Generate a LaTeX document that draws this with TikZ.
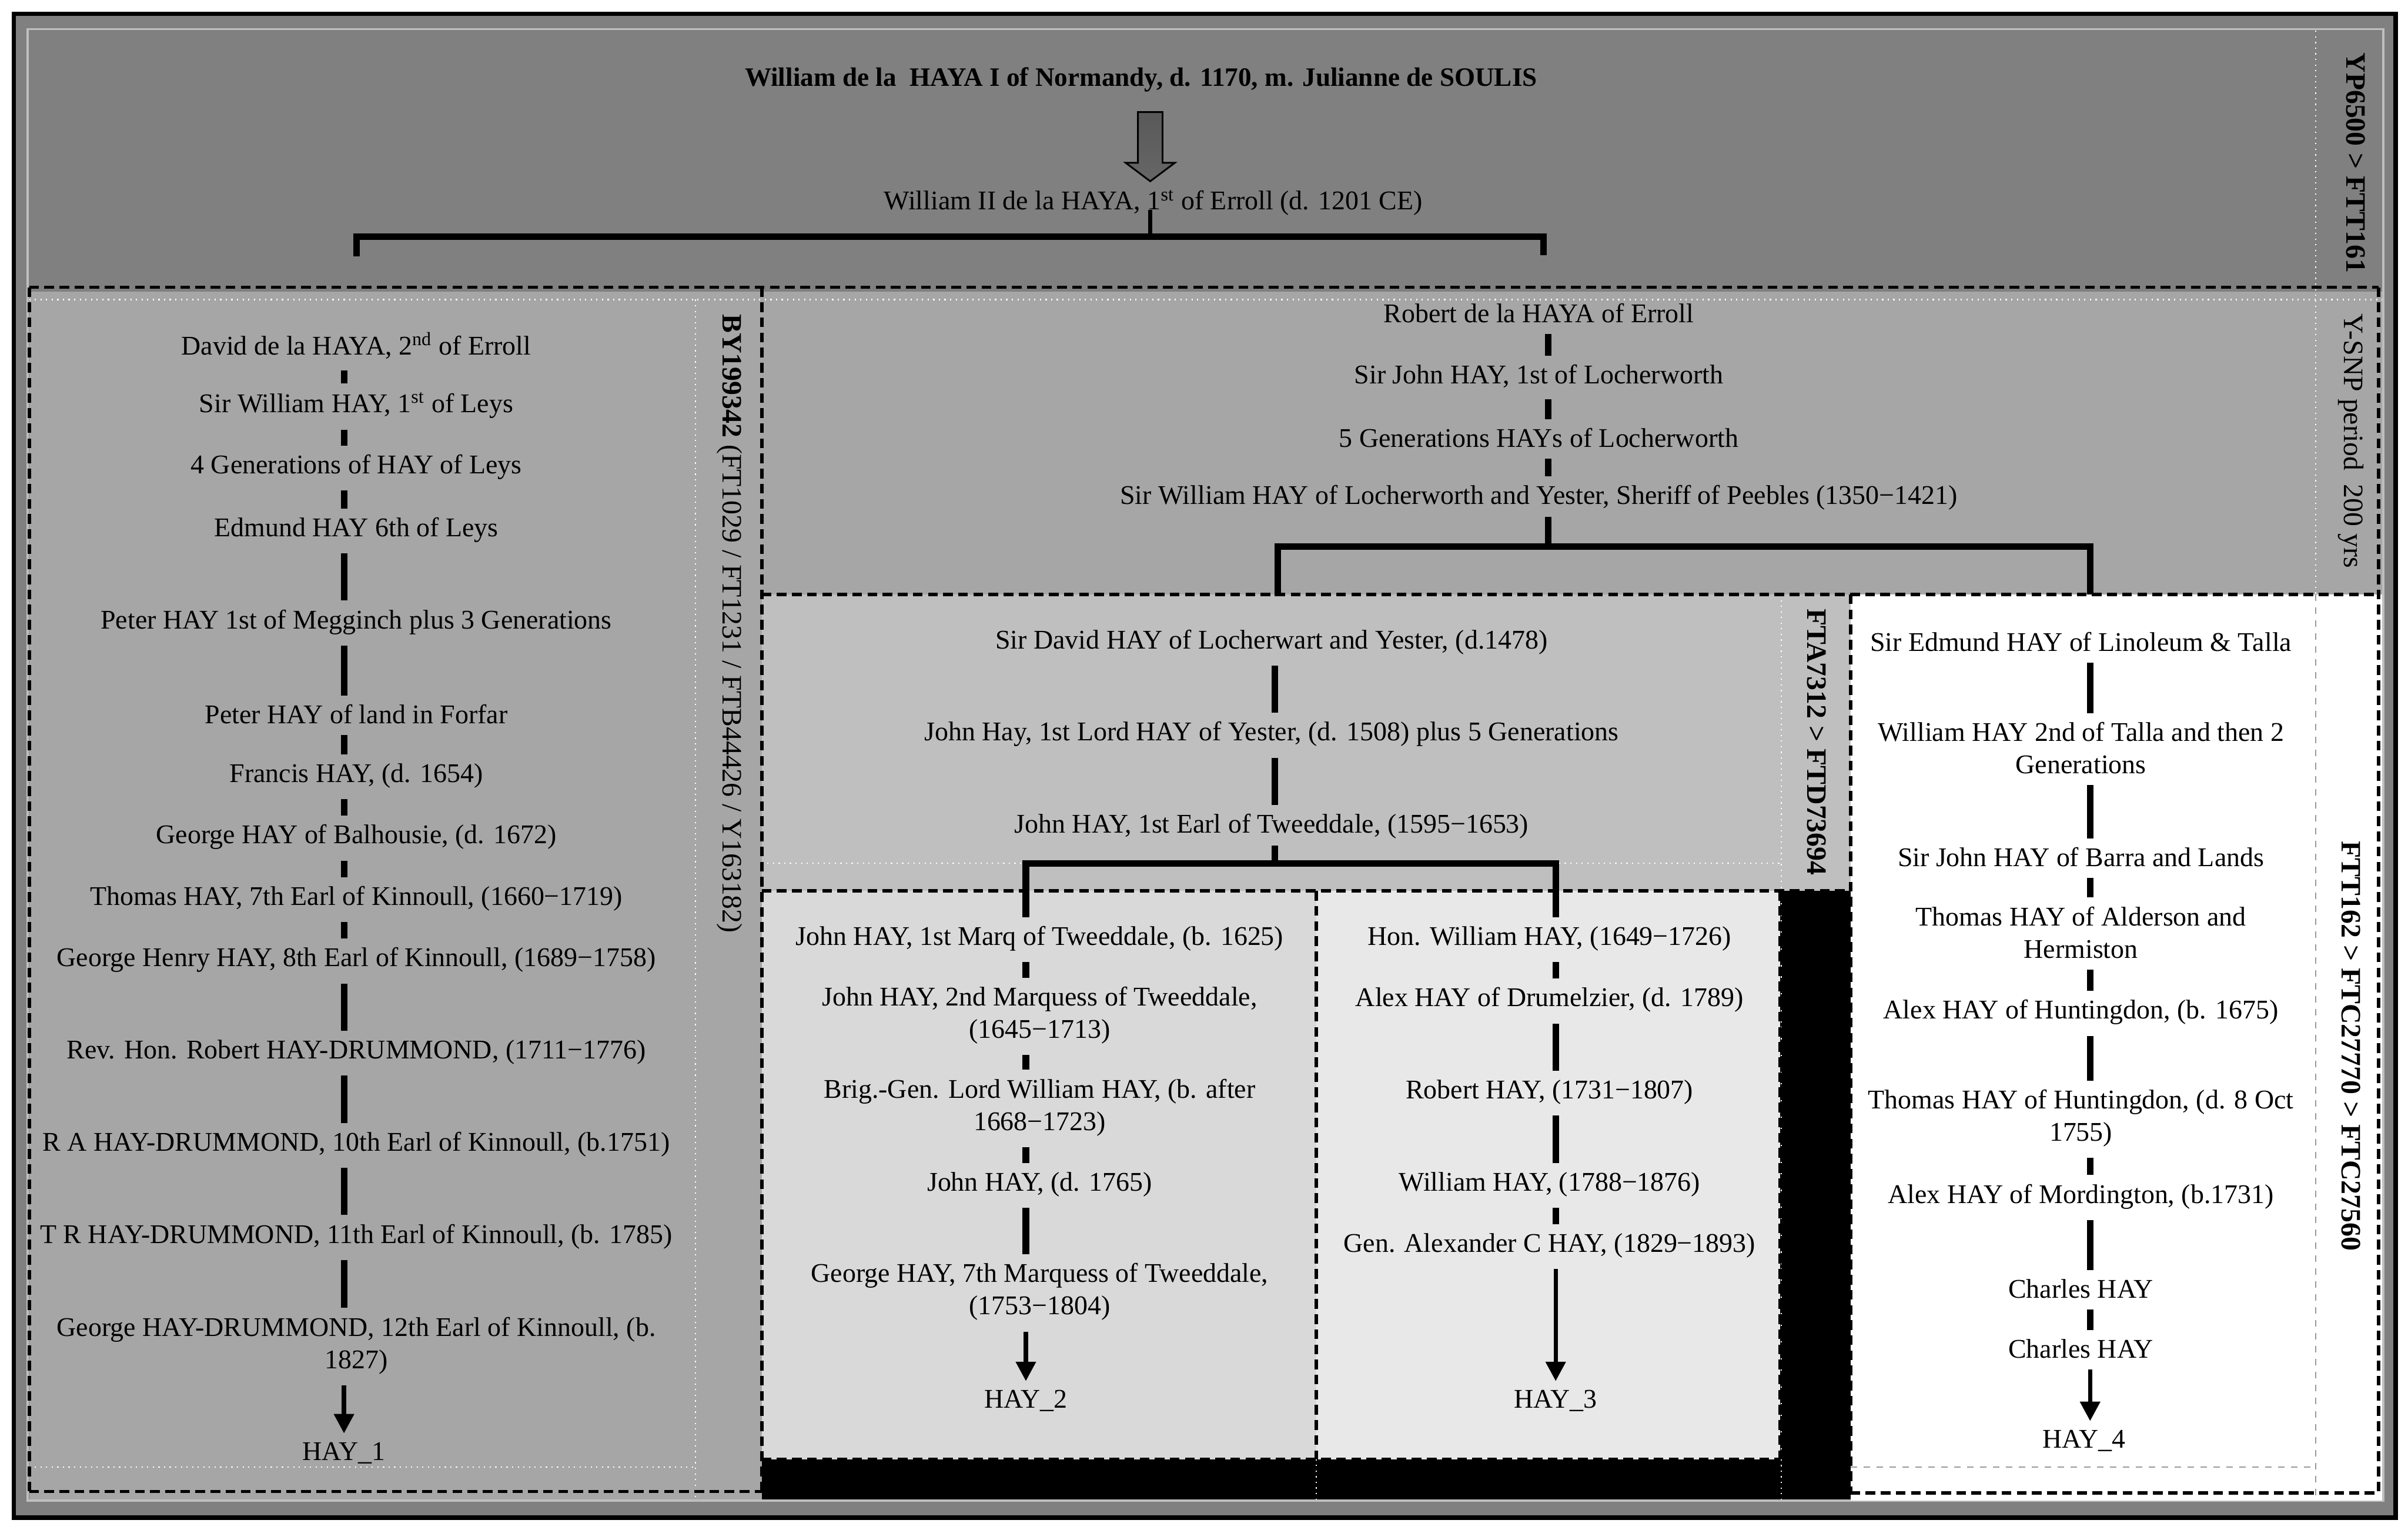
\documentclass[tikz,border=0pt]{standalone}
\usepackage{fontspec}
\setmainfont{Liberation Serif}
\usetikzlibrary{arrows.meta, calc}

\begin{document}
\begin{tikzpicture}[x=0.025cm, y=-0.025cm,
		person/.style={font=\fontsize{12.5}{15}\selectfont, align=center, inner sep=3pt},
		founder/.style={font=\fontsize{12.3}{15}\selectfont\bfseries},
		tag/.style={font=\fontsize{13}{15}\selectfont, rotate=-90},
		boldtag/.style={tag, font=\fontsize{13}{15}\selectfont\bfseries},
		link/.style={line width=3pt, shorten <=2pt, shorten >=1pt},
		fork/.style={line width=3pt},
		descent/.style={line width=2pt, -{Triangle[length=9pt, width=9pt]}, shorten <=2pt, shorten >=1pt},
		cellline/.style={dash pattern=on 4.5pt off 2.5pt, line width=1.6pt},
		gridline/.style={white, dotted, line width=0.6pt},
		greyline/.style={black!40, dashed, line width=0.5pt}]
	
	% Columnas de las barras de cada rama
	\def\xA{224}   % rama HAY_1
	\def\xR{1008}  % rama Robert de la HAYA
	\def\xM{830}   % rama Sir David
	\def\xB{668}   % rama HAY_2
	\def\xC{1013}  % rama HAY_3
	\def\xD{1361}  % rama HAY_4
	
	\useasboundingbox (0,0) rectangle (1568,996);
	
	% --- 1. MARCO Y FONDOS ---
	\fill[white] (0,0) rectangle (1568,996);
	\draw[line width=2pt, fill=black!50] (9,9) rectangle (1560,988);
	\draw[line width=1pt, black!25] (18,19) rectangle (1552,977);
	\fill[black!35] (19,190) rectangle (1551,976);   % tronco inferior
	\fill[black!25] (496,387) rectangle (1205,580);  % Sir David y su franja
	\fill[black!15] (496,580) rectangle (857,950);   % HAY_2
	\fill[black!9] (857,580) rectangle (1159,950);   % HAY_3
	\fill[black] (1159,580) rectangle (1205,976);
	\fill[black] (496,950) rectangle (1205,976);
	\fill[white] (1205,387) rectangle (1551,977);    % HAY_4
	
	% Rejilla de la tabla
	\draw[gridline] (19,195) -- (1551,195);
	\draw[gridline] (453,195) -- (453,976);
	\draw[gridline] (19,955) -- (453,955);
	\draw[gridline] (1508,20) -- (1508,387);
	\draw[gridline] (496,562) -- (1160,562);
	\draw[gridline] (1160,387) -- (1160,976);
	\draw[gridline] (857,950) -- (857,976);
	\draw[greyline] (1205,955) -- (1508,955);
	\draw[greyline] (1508,387) -- (1508,977);
	
	% Bordes discontinuos de las celdas (cada tramo una sola vez)
	\draw[cellline] (19,187) -- (1549,187);
	\draw[cellline] (496,387) -- (1549,387);
	\draw[cellline] (496,580) -- (1205,580);
	\draw[cellline] (496,950) -- (1159,950);
	\draw[cellline] (19,971) -- (496,971);
	\draw[cellline] (1205,972) -- (1549,972);
	\draw[cellline] (19,187) -- (19,971);
	\draw[cellline] (496,187) -- (496,971);
	\draw[cellline] (857,580) -- (857,950);
	\draw[cellline] (1159,580) -- (1159,950);
	\draw[cellline] (1205,387) -- (1205,972);
	\draw[cellline] (1549,187) -- (1549,972);
	
	% --- 2. CABECERA ---
	\node[founder] (w1) at (743,52) {William de la\ \ HAYA I of Normandy, d. 1170, m. Julianne de SOULIS};
	\node[person] (w2) at (751,132) {William II de la HAYA, 1\textsuperscript{st} of Erroll (d. 1201 CE)};
	
	% Flecha de bloque
	\coordinate (arrtop) at (749,73);
	\shadedraw[top color=black!65, middle color=black, bottom color=black!60, line width=0.8pt]
		(arrtop) ++(-8,0) -- ++(16,0) -- ++(0,33) -- ++(8,0) -- ++(-16,12) -- ++(-16,-12) -- ++(8,0) -- cycle;
	
	% Etiquetas verticales de haplogrupo
	\node[boldtag] (t1) at (1534,106) {YP6500 > FTT161};
	\node[tag] (t2) at (475,406) {\textbf{BY199342} (FT1029 / FT1231 / FTB44426 / Y163182)};
	\node[tag] (t3) at (1531,287) {Y-SNP period\ \ 200 yrs};
	\node[boldtag] (t4) at (1183,483) {FTA7312 > FTD73694};
	\node[boldtag] (t5) at (1531,681) {FTT162 > FTC27770 > FTC27560};
	
	% --- 3. RAMA HAY_1 ---
	\node[person] (l1) at (232,225) {David de la HAYA, 2\textsuperscript{nd} of Erroll};
	\node[person] (l2) at (232,264) {Sir William HAY, 1\textsuperscript{st} of Leys};
	\node[person] (l3) at (232,304) {4 Generations of HAY of Leys};
	\node[person] (l4) at (232,345) {Edmund HAY 6th of Leys};
	\node[person] (l5) at (232,405) {Peter HAY 1st of Megginch plus 3 Generations};
	\node[person] (l6) at (232,465) {Peter HAY of land in Forfar};
	\node[person] (l7) at (232,505) {Francis HAY, (d. 1654)};
	\node[person] (l8) at (232,545) {George HAY of Balhousie, (d. 1672)};
	\node[person] (l9) at (232,585) {Thomas HAY, 7th Earl of Kinnoull, (1660−1719)};
	\node[person] (l10) at (232,625) {George Henry HAY, 8th Earl of Kinnoull, (1689−1758)};
	\node[person] (l11) at (232,685) {Rev. Hon. Robert HAY-DRUMMOND, (1711−1776)};
	\node[person] (l12) at (232,745) {R A HAY-DRUMMOND, 10th Earl of Kinnoull, (b.1751)};
	\node[person] (l13) at (232,805) {T R HAY-DRUMMOND, 11th Earl of Kinnoull, (b. 1785)};
	\node[person] (l14) at (232,876) {George HAY-DRUMMOND, 12th Earl of Kinnoull, (b.\\1827)};
	\node[person] (hay1) at (\xA,946) {HAY\_1};
	
	% --- 4. RAMA DE ROBERT ---
	\node[person] (r1) at (1002,204) {Robert de la HAYA of Erroll};
	\node[person] (r2) at (1002,245) {Sir John HAY, 1st of Locherworth};
	\node[person] (r3) at (1002,285) {5 Generations HAYs of Locherworth};
	\node[person] (r4) at (1002,324) {Sir William HAY of Locherworth and Yester, Sheriff of Peebles (1350−1421)};
	
	\node[person] (m1) at (828,418) {Sir David HAY of Locherwart and Yester, (d.1478)};
	\node[person] (m2) at (828,478) {John Hay, 1st Lord HAY of Yester, (d. 1508) plus 5 Generations};
	\node[person] (m3) at (828,538) {John HAY, 1st Earl of Tweeddale, (1595−1653)};
	
	% HAY_2
	\node[person] (a1) at (677,611) {John HAY, 1st Marq of Tweeddale, (b. 1625)};
	\node[person] (a2) at (677,661) {John HAY, 2nd Marquess of Tweeddale,\\(1645−1713)};
	\node[person] (a3) at (677,721) {Brig.-Gen. Lord William HAY, (b. after\\1668−1723)};
	\node[person] (a4) at (677,771) {John HAY, (d. 1765)};
	\node[person] (a5) at (677,841) {George HAY, 7th Marquess of Tweeddale,\\(1753−1804)};
	\node[person] (hay2) at (\xB,912) {HAY\_2};
	
	% HAY_3
	\node[person] (b1) at (1009,611) {Hon. William HAY, (1649−1726)};
	\node[person] (b2) at (1009,651) {Alex HAY of Drumelzier, (d. 1789)};
	\node[person] (b3) at (1009,711) {Robert HAY, (1731−1807)};
	\node[person] (b4) at (1009,771) {William HAY, (1788−1876)};
	\node[person] (b5) at (1009,811) {Gen. Alexander C HAY, (1829−1893)};
	\node[person] (hay3) at (\xC,912) {HAY\_3};
	
	% --- 5. RAMA HAY_4 ---
	\node[person] (c1) at (1355,418) {Sir Edmund HAY of Linoleum \& Talla};
	\node[person] (c2) at (1355,487) {William HAY 2nd of Talla and then 2\\Generations};
	\node[person] (c3) at (1355,558) {Sir John HAY of Barra and Lands};
	\node[person] (c4) at (1355,607) {Thomas HAY of Alderson and\\Hermiston};
	\node[person] (c5) at (1355,659) {Alex HAY of Huntingdon, (b. 1675)};
	\node[person] (c6) at (1355,728) {Thomas HAY of Huntingdon, (d. 8 Oct\\1755)};
	\node[person] (c7) at (1355,779) {Alex HAY of Mordington, (b.1731)};
	\node[person] (c8) at (1355,839) {Charles HAY};
	\node[person] (c9) at (1355,878) {Charles HAY};
	\node[person] (hay4) at (1357,938) {HAY\_4};
	
	% --- 6. CONECTORES ---
	\coordinate (colA) at (\xA,0);
	\coordinate (colR) at (\xR,0);
	\coordinate (colM) at (\xM,0);
	\coordinate (colB) at (\xB,0);
	\coordinate (colC) at (\xC,0);
	\coordinate (colD) at (\xD,0);
	
	\foreach \a/\b in {l1/l2, l2/l3, l3/l4, l4/l5, l5/l6, l6/l7, l7/l8, l8/l9, l9/l10, l10/l11, l11/l12, l12/l13, l13/l14}
		\draw[link] (\a.south -| colA) -- (\b.north -| colA);
	\foreach \a/\b in {r1/r2, r2/r3, r3/r4}
		\draw[link] (\a.south -| colR) -- (\b.north -| colR);
	\foreach \a/\b in {m1/m2, m2/m3}
		\draw[link] (\a.south -| colM) -- (\b.north -| colM);
	\foreach \a/\b in {a1/a2, a2/a3, a3/a4, a4/a5}
		\draw[link] (\a.south -| colB) -- (\b.north -| colB);
	\foreach \a/\b in {b1/b2, b2/b3, b3/b4, b4/b5}
		\draw[link] (\a.south -| colC) -- (\b.north -| colC);
	\foreach \a/\b in {c1/c2, c2/c3, c3/c4, c4/c5, c5/c6, c6/c7, c7/c8, c8/c9}
		\draw[link] (\a.south -| colD) -- (\b.north -| colD);
	
	% Flechas hacia cada linaje actual
	\draw[descent] (l14.south -| colA) -- (hay1.north -| colA);
	\draw[descent] (a5.south -| colB) -- (hay2.north -| colB);
	\draw[descent] (b5.south -| colC) -- (hay3.north -| colC);
	\draw[descent] (c9.south -| colD) -- (hay4.north -| colD);
	
	% Horquillas de separación de ramas
	\coordinate (f1) at (749,154);
	\coordinate (f1L) at (232,167);
	\coordinate (f1R) at (1005,166);
	\draw[line width=2pt] (w2.base -| f1) -- (f1);
	\draw[fork] (f1L) -- (f1L |- f1) -- (f1R |- f1) -- (f1R);
	
	\coordinate (f2) at (\xR,356);
	\coordinate (f2L) at (832,388);
	\coordinate (f2R) at (\xD,387);
	\draw[fork] (r4.south -| f2) -- (f2);
	\draw[fork] (f2L) -- (f2L |- f2) -- (f2R |- f2) -- (f2R);
	
	\coordinate (f3) at (\xM,562);
	\coordinate (f3L) at (\xB,597);
	\coordinate (f3R) at (\xC,597);
	\draw[fork] (m3.south -| f3) -- (f3);
	\draw[fork] (f3L) -- (f3L |- f3) -- (f3R |- f3) -- (f3R);
	
\end{tikzpicture}
\end{document}
